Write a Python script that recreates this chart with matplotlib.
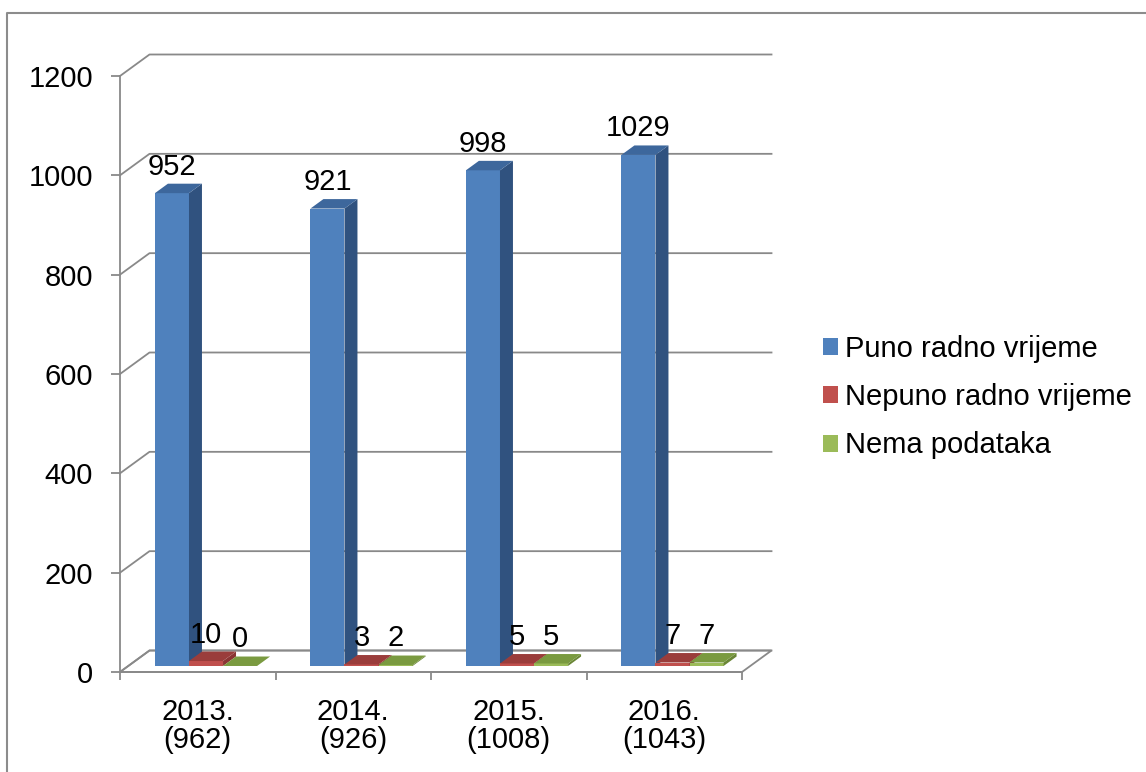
"""3D-style clustered column chart: employment type by year."""

import matplotlib.pyplot as plt
from matplotlib.lines import Line2D
from matplotlib.patches import Polygon, Rectangle

plt.rcParams["font.family"] = ["Liberation Sans", "DejaVu Sans"]

# Data.
years = ["2013.", "2014.", "2015.", "2016."]
totals = [962, 926, 1008, 1043]
series_names = ["Puno radno vrijeme", "Nepuno radno vrijeme", "Nema podataka"]
puno = [952, 921, 998, 1029]
nepuno = [10, 3, 5, 7]
nema = [0, 2, 5, 7]
y_ticks = [0, 200, 400, 600, 800, 1000, 1200]

# Face colours (front, side, top) for each series.
colors = [
    ("#4F81BD", "#30527F", "#3D679C"),
    ("#C0504D", "#8A3533", "#9A3D3B"),
    ("#9BBB59", "#6A8636", "#7A9A40"),
]

W, H = 1146, 772
FS = 21
GRID = "#898989"

fig = plt.figure(figsize=(W / 100, H / 100), dpi=100)
# Axes box = the front plane of the 3D plot (floor front edge to 1200 level).
x0_px, x1_px, y0_px, y1_px = 120, 742, 672, 76
ax = fig.add_axes([x0_px / W, 1 - y0_px / H, (x1_px - x0_px) / W, (y0_px - y1_px) / H])
ax.set_xlim(0, 4)
ax.set_ylim(0, 1200)

# Depth offset of the back wall, in data units.
DX = 29.5 / ((x1_px - x0_px) / 4)
DY = 21.5 / ((y0_px - y1_px) / 1200)

# Back wall gridlines with the short diagonal on the left side wall.
for v in y_ticks:
    ax.add_line(Line2D([0, DX, 4 + DX], [v, v + DY, v + DY], color=GRID, lw=1.3,
                       clip_on=False, zorder=1))

# Floor.
ax.add_patch(Polygon([(0, 0), (4, 0), (4 + DX, DY), (DX, DY)], closed=True,
                     facecolor="none", edgecolor=GRID, lw=1.3, clip_on=False, zorder=1))

# Bars.
n = len(years)
bw = 0.219
start = (1 - 3 * bw) / 2
z0, z1 = 0.28, 0.72
for i in range(n):
    for k, vals in enumerate([puno, nepuno, nema]):
        v = vals[i]
        front, side, top = colors[k]
        xl = i + start + k * bw
        xr = xl + bw
        fx0, fy0 = z0 * DX, z0 * DY
        fx1, fy1 = z1 * DX, z1 * DY
        ax.add_patch(Rectangle((xl + fx0, fy0), bw, v, facecolor=front,
                               edgecolor="none", clip_on=False, zorder=3))
        ax.add_patch(Polygon([(xr + fx0, fy0), (xr + fx1, fy1), (xr + fx1, v + fy1),
                              (xr + fx0, v + fy0)], closed=True, facecolor=side,
                             edgecolor="none", clip_on=False, zorder=3))
        ax.add_patch(Polygon([(xl + fx0, v + fy0), (xr + fx0, v + fy0),
                              (xr + fx1, v + fy1), (xl + fx1, v + fy1)], closed=True,
                             facecolor=top, edgecolor="none", clip_on=False, zorder=3))
        ax.annotate(str(v), (xl + fx0 + bw / 2, v + fy1), xytext=(0, 6.5),
                    textcoords="offset points", ha="center", va="baseline",
                    fontsize=FS, zorder=4, annotation_clip=False)

# Axes: left spine is the vertical axis, bottom spine is the floor front edge.
for s in ["top", "right"]:
    ax.spines[s].set_visible(False)
for s in ["left", "bottom"]:
    ax.spines[s].set_color(GRID)
    ax.spines[s].set_linewidth(1.3)
ax.set_yticks(y_ticks)
ax.set_yticklabels([str(t) for t in y_ticks])
ax.tick_params(axis="y", length=6.5, width=1.3, color=GRID, pad=13, labelsize=FS)
ax.set_xticks([i + 0.5 for i in range(n)])
ax.set_xticklabels([f"{y}\n({t})" for y, t in zip(years, totals)], linespacing=1.02)
ax.set_xticks(range(n + 1), minor=True)
ax.tick_params(axis="x", which="major", length=0, pad=18.5, labelsize=FS)
ax.tick_params(axis="x", which="minor", length=6, width=1.3, color=GRID)
ax.set_facecolor("none")

# Legend.
handles = [Rectangle((0, 0), 1, 1, facecolor=c[0], edgecolor="none") for c in colors]
fig.legend(handles, series_names, loc="center left", bbox_to_anchor=(823 / W, 1 - 397 / H),
           frameon=False, fontsize=FS, handlelength=0.52, handleheight=0.52,
           handletextpad=0.25, labelspacing=0.7, borderpad=0, borderaxespad=0)

# Chart area border (only top and left edges fall inside the picture).
fig.add_artist(Line2D([7 / W, 7 / W, 1], [0, 1 - 13 / H, 1 - 13 / H],
                      transform=fig.transFigure, color="#8C8C8C", lw=1.5))

fig.savefig("out.png", dpi=100)
